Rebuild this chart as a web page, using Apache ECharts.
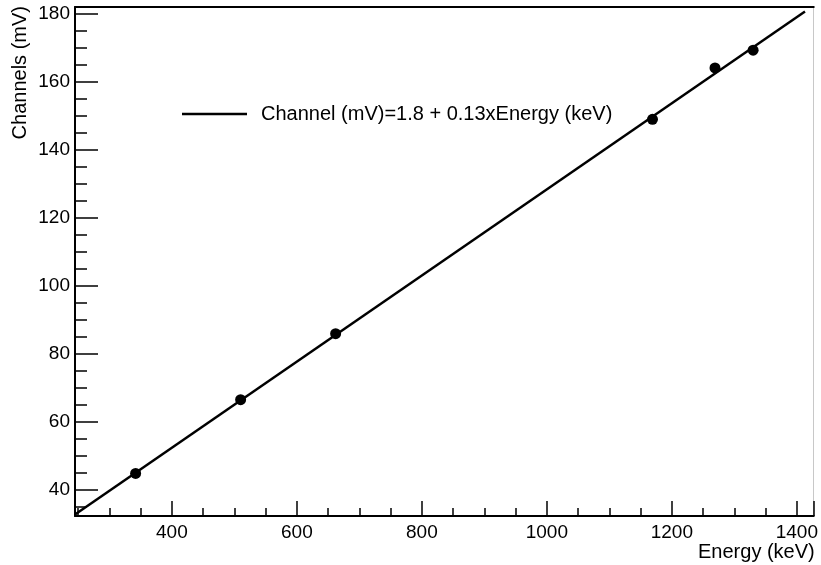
<!DOCTYPE html>
<html>
<head>
<meta charset="utf-8">
<title>Energy calibration</title>
<script src="https://cdn.jsdelivr.net/npm/echarts@6/dist/echarts.min.js"></script>
<style>
  html, body { margin: 0; padding: 0; background: #fff; }
  #chart { width: 821px; height: 565px; }
</style>
</head>
<body>
<div id="chart"></div>
<script>
// Calibration peaks: photopeak energy and measured pulse height
const energies = [342, 510, 662, 1169, 1269, 1330];      // keV
const channels = [44.9, 66.6, 86.0, 149.0, 164.1, 169.3]; // mV

// Linear fit Channel = a + b * Energy, drawn over the fit range
const fitIntercept = 1.8;
const fitSlope = 0.1266;
const fitRange = [245, 1413];
const fitLabel = 'Channel (mV)=1.8 + 0.13xEnergy (keV)';

// Axis ranges and titles
const xRange = [245, 1427];
const yRange = [32.4, 182];
const xTitle = 'Energy (keV)';
const yTitle = 'Channels (mV)';

const FONT = "'Liberation Sans', Arial, Helvetica, sans-serif";
const fitLine = fitRange.map(e => [e, fitIntercept + fitSlope * e]);
const points = energies.map((e, i) => [e, channels[i]]);

const chart = echarts.init(document.getElementById('chart'), null, { renderer: 'canvas' });

const tickFont = { color: '#000', fontSize: 19, fontFamily: FONT };

chart.setOption({
  animation: false,
  backgroundColor: '#fff',
  grid: { left: 75, right: 2, top: 7, bottom: 49, containLabel: false },
  legend: {
    left: 177,
    top: 99,
    icon: 'rect',
    itemWidth: 65,
    itemHeight: 2.5,
    data: [fitLabel],
    itemStyle: { color: '#000' },
    textStyle: { color: '#000', fontSize: 20, fontFamily: FONT, padding: [0, 0, 0, 9] }
  },
  xAxis: [
    {
      type: 'value',
      position: 'bottom',
      min: xRange[0],
      max: xRange[1],
      minInterval: 200,
      maxInterval: 200,
      name: xTitle,
      nameLocation: 'end',
      nameGap: 1,
      nameTextStyle: {
        color: '#000', fontSize: 20, fontFamily: FONT,
        align: 'right', verticalAlign: 'top', padding: [26, 0, 0, 0]
      },
      axisLine: { show: true, onZero: false, lineStyle: { color: '#000', width: 2 } },
      axisTick: { show: true, inside: true, length: 15, lineStyle: { color: '#000', width: 1.5 } },
      minorTick: { show: true, splitNumber: 4, length: 8, lineStyle: { color: '#000', width: 1.5 } },
      splitLine: { show: false },
      minorSplitLine: { show: false },
      axisLabel: Object.assign({
        margin: 7,
        formatter: v => (Math.abs(v % 200) < 1e-6 ? String(v) : '')
      }, tickFont)
    },
    {
      type: 'value',
      position: 'top',
      min: xRange[0],
      max: xRange[1],
      axisLine: { show: true, onZero: false, lineStyle: { color: '#000', width: 2 } },
      axisTick: { show: false },
      axisLabel: { show: false },
      splitLine: { show: false }
    }
  ],
  yAxis: [
    {
      type: 'value',
      position: 'left',
      min: yRange[0],
      max: yRange[1],
      splitNumber: 7,
      minInterval: 20,
      maxInterval: 20,
      axisLine: { show: true, onZero: false, lineStyle: { color: '#000', width: 2 } },
      axisTick: { show: true, inside: true, length: 23, lineStyle: { color: '#000', width: 1.5 } },
      minorTick: { show: true, splitNumber: 4, length: 12, lineStyle: { color: '#000', width: 1.5 } },
      splitLine: { show: false },
      minorSplitLine: { show: false },
      axisLabel: Object.assign({
        margin: 5,
        formatter: v => (Math.abs(v % 20) < 1e-6 ? String(v) : '')
      }, tickFont)
    },
    {
      type: 'value',
      position: 'right',
      min: yRange[0],
      max: yRange[1],
      axisLine: { show: true, onZero: false, lineStyle: { color: '#c8c8c8', width: 1 } },
      axisTick: { show: false },
      axisLabel: { show: false },
      splitLine: { show: false }
    }
  ],
  graphic: [
    {
      type: 'text',
      left: 10,
      top: 6,
      rotation: Math.PI / 2,
      style: { text: yTitle, fill: '#000', font: '20px ' + FONT }
    }
  ],
  series: [
    {
      name: fitLabel,
      type: 'line',
      xAxisIndex: 0,
      yAxisIndex: 0,
      data: fitLine,
      showSymbol: false,
      symbol: 'none',
      lineStyle: { color: '#000', width: 2.5 },
      itemStyle: { color: '#000' },
      z: 2
    },
    {
      name: 'peaks',
      type: 'scatter',
      xAxisIndex: 0,
      yAxisIndex: 0,
      data: points,
      symbol: 'circle',
      symbolSize: 11,
      itemStyle: { color: '#000', opacity: 1 },
      z: 3
    }
  ]
});
</script>
</body>
</html>
